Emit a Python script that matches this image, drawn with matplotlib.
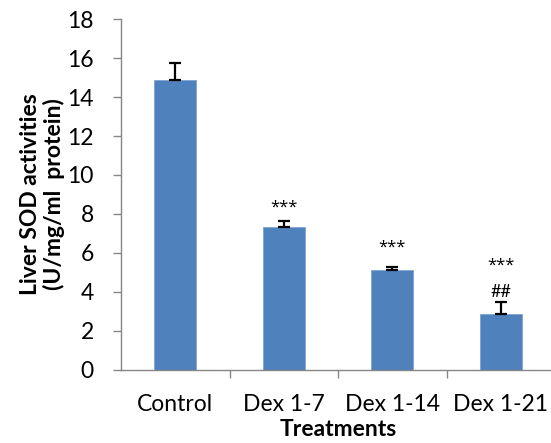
import matplotlib.pyplot as plt
import numpy as np

categories = ["Control", "Dex 1-7", "Dex 1-14", "Dex 1-21"]
values = [14.85, 7.32, 5.13, 2.87]
errors = [0.9, 0.32, 0.17, 0.6]
stars = ["", "***", "***", "***"]
star_y = [None, 8.3, 6.25, 5.35]
hashes = ["", "", "", "##"]
hash_y = [None, None, None, 4.0]

plt.rcParams['font.family'] = ['Lato', 'DejaVu Sans']
fig = plt.figure(figsize=(5.51, 4.43), dpi=100)
ax = fig.add_axes([0.2196, 0.1648, 0.7877, 0.7923])

x = np.arange(len(categories))
ax.bar(x, values, width=0.39, color='#4F81BD', edgecolor='#7FA3D3', linewidth=0.6, zorder=2)
ax.errorbar(x, values, yerr=[np.zeros(len(errors)), errors], fmt='none', ecolor='black',
            elinewidth=1.6, capsize=4, capthick=1.6, zorder=3)

for i in range(len(categories)):
    if stars[i]:
        ax.text(x[i], star_y[i], stars[i], ha='center', va='center', fontsize=12,
                family=['Open Sans', 'DejaVu Sans'])
    if hashes[i]:
        ax.text(x[i], hash_y[i], hashes[i], ha='center', va='center', fontsize=13)

ax.set_xlim(-0.5, 3.5)
ax.set_ylim(0, 18)
ax.set_yticks(range(0, 19, 2))
ax.set_xticks(x)
ax.set_xticklabels(categories, fontsize=16.5)
ax.set_xticks([0.5, 1.5, 2.5], minor=True)
ax.tick_params(axis='x', which='major', length=0, pad=17)
ax.tick_params(axis='x', which='minor', length=6, color='#868686', width=1)
ax.tick_params(axis='y', labelsize=16.5, length=6, color='#868686', width=1, pad=13.5)

for s in ['top', 'right']:
    ax.spines[s].set_visible(False)
for s in ['left', 'bottom']:
    ax.spines[s].set_color('#868686')
    ax.spines[s].set_linewidth(1)

ax.set_ylabel("Liver SOD activities\n(U/mg/ml  protein)", fontsize=16.5, fontweight='bold',
              labelpad=1.5, linespacing=1.1)
ax.set_xlabel("Treatments", fontsize=16.5, fontweight='bold', labelpad=3)

fig.savefig("out.png", dpi=100)
